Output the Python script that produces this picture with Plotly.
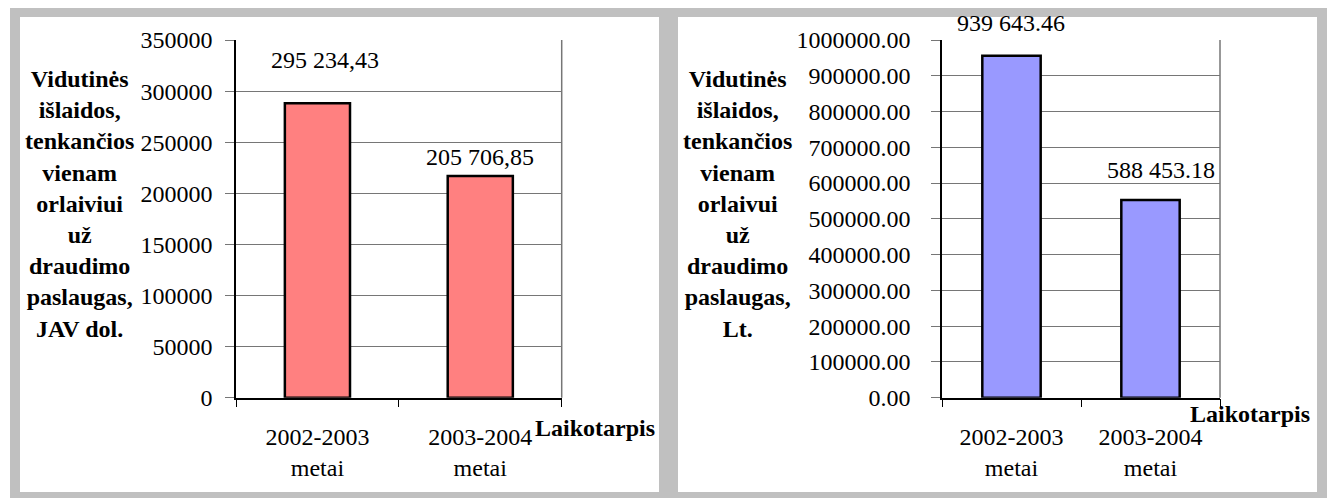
import plotly.graph_objects as go

W, H = 1332, 498

categories = ["2002-2003<br>metai", "2003-2004<br>metai"]
usd_bar_values = [288000, 217000]
usd_label_text = ["295 234,43", "205 706,85"]
lt_bar_values = [956000, 553000]
lt_label_text = ["939 643.46", "588 453.18"]
usd_ticks = [0, 50000, 100000, 150000, 200000, 250000, 300000, 350000]
lt_ticks = [0, 100000, 200000, 300000, 400000, 500000, 600000, 700000, 800000, 900000, 1000000]
ytitle_usd = ["Vidutinės", "išlaidos,", "tenkančios", "vienam", "orlaiviui", "už", "draudimo", "paslaugas,", "JAV dol."]
ytitle_lt = ["Vidutinės", "išlaidos,", "tenkančios", "vienam", "orlaivui", "už", "draudimo", "paslaugas,", "Lt."]
xtitle = "Laikotarpis"

FONT = "'Liberation Serif', 'Times New Roman', Times, serif"
def px(x):
    return x / W
def py(y):
    return 1 - y / H

fig = go.Figure()
fig.add_trace(go.Bar(x=categories, y=usd_bar_values, width=0.4,
                     marker=dict(color="#FF8080", line=dict(color="black", width=2.5)),
                     xaxis="x", yaxis="y", showlegend=False, hoverinfo="skip"))
fig.add_trace(go.Bar(x=categories, y=lt_bar_values, width=0.42,
                     marker=dict(color="#9999FF", line=dict(color="black", width=2.5)),
                     xaxis="x2", yaxis="y2", showlegend=False, hoverinfo="skip"))

ydom = [py(397.7), py(40)]
xcommon = dict(type="category", showgrid=False, showline=True, linecolor="black", linewidth=1.5,
               ticks="outside", ticklen=8, tickcolor="black", tickson="boundaries", automargin=False,
               tickfont=dict(family=FONT, size=24, color="black"), ticklabelstandoff=17, zeroline=False)
ycommon = dict(showgrid=True, gridcolor="#767676", gridwidth=1.2, showline=True, linecolor="black",
               linewidth=1.5, ticks="outside", ticklen=9, tickcolor="#767676", automargin=False,
               tickfont=dict(family=FONT, size=24, color="black"), zeroline=False)

fig.update_layout(
    width=W, height=H, margin=dict(l=0, r=0, t=0, b=0, pad=0), autosize=False, showlegend=False,
    paper_bgcolor="white", plot_bgcolor="rgba(0,0,0,0)", bargap=0.6,
    xaxis=dict(domain=[px(236), px(561.7)], anchor="y", **xcommon),
    yaxis=dict(domain=ydom, anchor="x", range=[0, 350000], tickvals=usd_ticks,
               tickformat="d", ticklabelstandoff=8, **ycommon),
    xaxis2=dict(domain=[px(942), px(1220)], anchor="y2", **xcommon),
    yaxis2=dict(domain=ydom, anchor="x2", range=[0, 1000000], tickvals=lt_ticks,
                tickformat=".2f", ticklabelstandoff=16, **ycommon),
)

# gray frames
shapes = [
    dict(type="rect", xref="paper", yref="paper", x0=px(10), x1=px(1327), y0=0, y1=py(8),
         fillcolor="#C0C0C0", line_width=0, layer="below"),
    dict(type="rect", xref="paper", yref="paper", x0=px(20), x1=px(659), y0=py(492), y1=py(17),
         fillcolor="white", line_width=0, layer="below"),
    dict(type="rect", xref="paper", yref="paper", x0=px(678), x1=px(1317), y0=py(492), y1=py(17),
         fillcolor="white", line_width=0, layer="below"),
    dict(type="line", xref="x domain", yref="y domain", x0=1, x1=1, y0=0, y1=1,
         line=dict(color="#767676", width=1.5)),
    dict(type="line", xref="x2 domain", yref="y2 domain", x0=1, x1=1, y0=0, y1=1,
         line=dict(color="#767676", width=1.5)),
]
fig.update_layout(shapes=shapes)

ann = []
lab_font = dict(family=FONT, size=24, color="black")
usd_shift = [(8, 43), (0, 19)]
lt_shift = [(-1, 33), (10, 30)]
for c, v, t, (dx, dy) in zip(categories, usd_bar_values, usd_label_text, usd_shift):
    ann.append(dict(x=c, y=v, xref="x", yref="y", text=t, showarrow=False, font=lab_font,
                    yanchor="middle", xshift=dx, yshift=dy))
for c, v, t, (dx, dy) in zip(categories, lt_bar_values, lt_label_text, lt_shift):
    ann.append(dict(x=c, y=v, xref="x2", yref="y2", text=t, showarrow=False, font=lab_font,
                    yanchor="middle", xshift=dx, yshift=dy))

bold = dict(family=FONT, size=24, color="black", weight="bold")
ann.append(dict(x=px(79), y=py(204), xref="paper", yref="paper", text="<br>".join(ytitle_usd),
                showarrow=False, font=bold, align="center", xanchor="center", yanchor="middle"))
ann.append(dict(x=px(737), y=py(204), xref="paper", yref="paper", text="<br>".join(ytitle_lt),
                showarrow=False, font=bold, align="center", xanchor="center", yanchor="middle"))
ann.append(dict(x=px(594.5), y=py(428), xref="paper", yref="paper", text=xtitle,
                showarrow=False, font=bold, xanchor="center", yanchor="middle"))
ann.append(dict(x=px(1250), y=py(414), xref="paper", yref="paper", text=xtitle,
                showarrow=False, font=bold, xanchor="center", yanchor="middle"))
fig.update_layout(annotations=ann)

fig.write_html("out.html", config={"displayModeBar": False},
               post_script="document.body.style.margin='0';document.body.style.overflow='hidden';")
